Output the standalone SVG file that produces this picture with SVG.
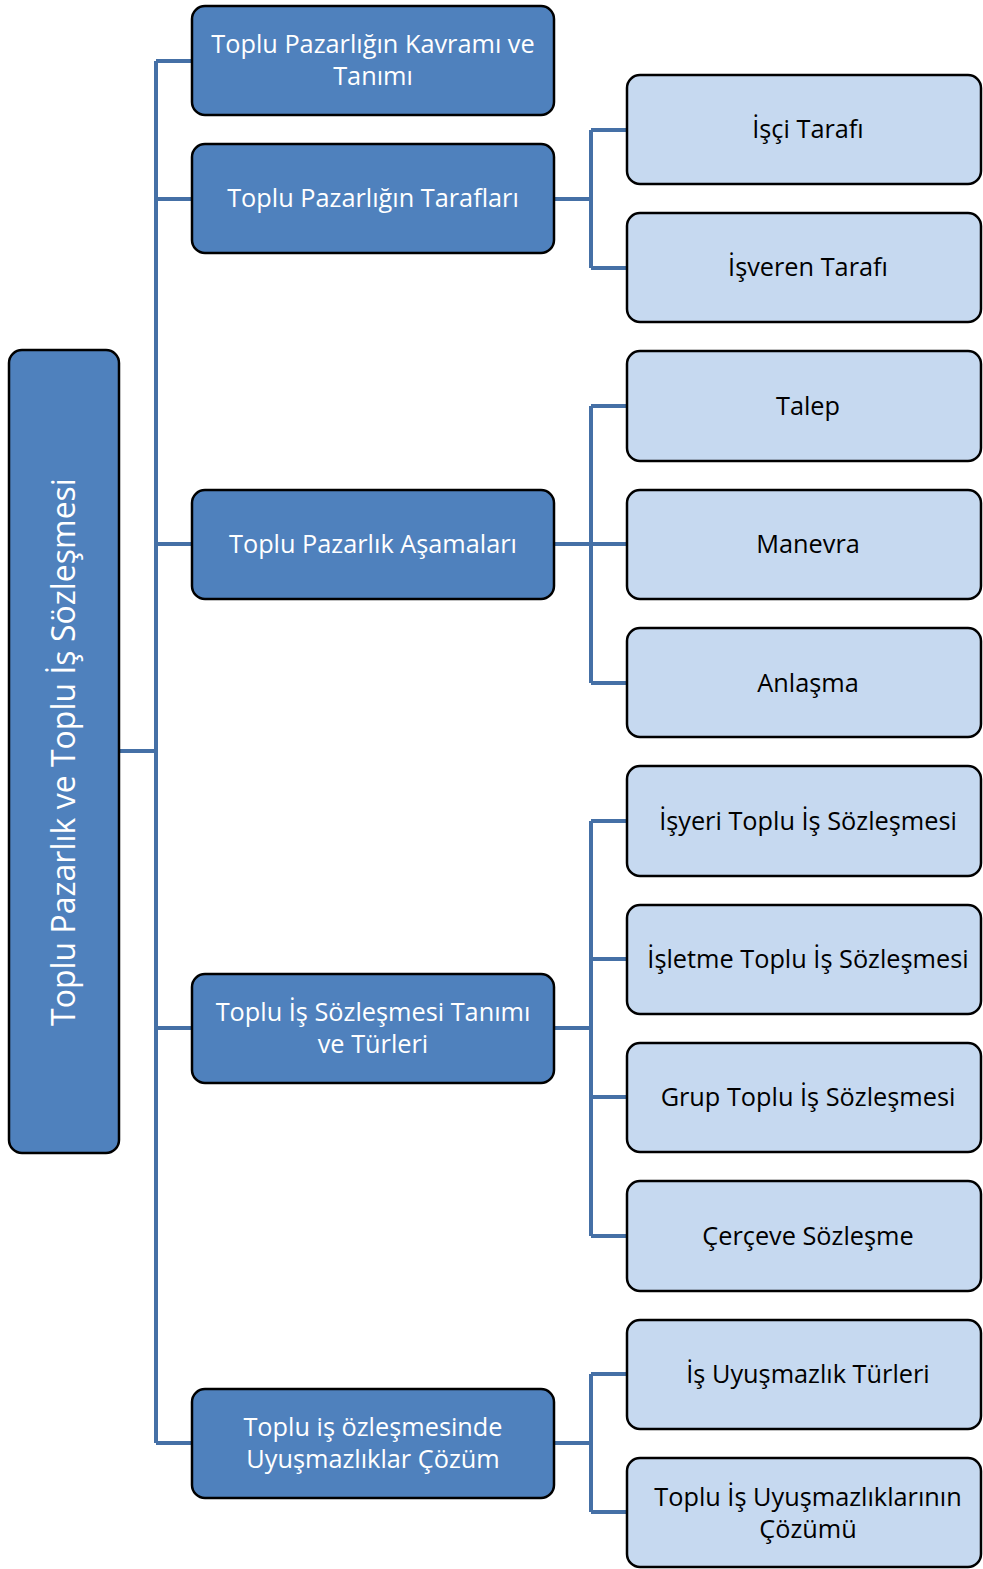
<svg xmlns="http://www.w3.org/2000/svg" width="983" height="1569" viewBox="0 0 983 1569">
<style>
.l1{fill:#4F81BD;stroke:#000;stroke-width:2.5}
.l2{fill:#C6D9F0;stroke:#000;stroke-width:2.5}
.t1{font-family:"Open Sans","Liberation Sans",sans-serif;font-size:25.3px;fill:#fff;text-anchor:middle}
.t2{font-family:"Open Sans","Liberation Sans",sans-serif;font-size:25.3px;fill:#000;text-anchor:middle}
.tr{font-family:"Open Sans","Liberation Sans",sans-serif;font-size:32px;fill:#fff;text-anchor:middle}
.c{fill:none;stroke:#4570A6;stroke-width:4}
</style>
<rect width="983" height="1569" fill="#fff"/>
<g id="connectors">
<path class="c" d="M119 751H156M156 61V1443M156 61H192M156 199H192M156 544H192M156 1028H192M156 1443H192"/>
<path class="c" d="M554 199H591M591 130V268M591 130H627M591 268H627"/>
<path class="c" d="M554 544H591M591 406V683M591 406H627M591 544H627M591 683H627"/>
<path class="c" d="M554 1028H591M591 821V1236M591 821H627M591 959H627M591 1097H627M591 1236H627"/>
<path class="c" d="M554 1443H591M591 1374V1512M591 1374H627M591 1512H627"/>
</g>
<g id="root">
<rect class="l1" x="9" y="350" width="110" height="803" rx="13"/>
<text class="tr" transform="translate(75,752) rotate(-90)">Toplu Pazarlık ve Toplu İş Sözleşmesi</text>
</g>
<g id="n1">
<rect class="l1" x="192" y="6" width="362" height="109" rx="13"/>
<text class="t1" x="373" y="53">Toplu Pazarlığın Kavramı ve</text>
<text class="t1" x="373" y="85">Tanımı</text>
</g>
<g id="n2">
<rect class="l1" x="192" y="144" width="362" height="109" rx="13"/>
<text class="t1" x="373" y="207">Toplu Pazarlığın Tarafları</text>
</g>
<g id="n3">
<rect class="l1" x="192" y="490" width="362" height="109" rx="13"/>
<text class="t1" x="373" y="553">Toplu Pazarlık Aşamaları</text>
</g>
<g id="n4">
<rect class="l1" x="192" y="974" width="362" height="109" rx="13"/>
<text class="t1" x="373" y="1021">Toplu İş Sözleşmesi Tanımı</text>
<text class="t1" x="373" y="1053">ve Türleri</text>
</g>
<g id="n5">
<rect class="l1" x="192" y="1389" width="362" height="109" rx="13"/>
<text class="t1" x="373" y="1436">Toplu iş özleşmesinde</text>
<text class="t1" x="373" y="1468">Uyuşmazlıklar Çözüm</text>
</g>
<g id="n2a">
<rect class="l2" x="627" y="75" width="354" height="109" rx="13"/>
<text class="t2" x="808" y="138">İşçi Tarafı</text>
</g>
<g id="n2b">
<rect class="l2" x="627" y="213" width="354" height="109" rx="13"/>
<text class="t2" x="808" y="276">İşveren Tarafı</text>
</g>
<g id="n3a">
<rect class="l2" x="627" y="351" width="354" height="110" rx="13"/>
<text class="t2" x="808" y="415">Talep</text>
</g>
<g id="n3b">
<rect class="l2" x="627" y="490" width="354" height="109" rx="13"/>
<text class="t2" x="808" y="553">Manevra</text>
</g>
<g id="n3c">
<rect class="l2" x="627" y="628" width="354" height="109" rx="13"/>
<text class="t2" x="808" y="692">Anlaşma</text>
</g>
<g id="n4a">
<rect class="l2" x="627" y="766" width="354" height="110" rx="13"/>
<text class="t2" x="808" y="830">İşyeri Toplu İş Sözleşmesi</text>
</g>
<g id="n4b">
<rect class="l2" x="627" y="905" width="354" height="109" rx="13"/>
<text class="t2" x="808" y="968">İşletme Toplu İş Sözleşmesi</text>
</g>
<g id="n4c">
<rect class="l2" x="627" y="1043" width="354" height="109" rx="13"/>
<text class="t2" x="808" y="1106">Grup Toplu İş Sözleşmesi</text>
</g>
<g id="n4d">
<rect class="l2" x="627" y="1181" width="354" height="110" rx="13"/>
<text class="t2" x="808" y="1245">Çerçeve Sözleşme</text>
</g>
<g id="n5a">
<rect class="l2" x="627" y="1320" width="354" height="109" rx="13"/>
<text class="t2" x="808" y="1383">İş Uyuşmazlık Türleri</text>
</g>
<g id="n5b">
<rect class="l2" x="627" y="1458" width="354" height="109" rx="13"/>
<text class="t2" x="808" y="1506">Toplu İş Uyuşmazlıklarının</text>
<text class="t2" x="808" y="1538">Çözümü</text>
</g>
</svg>
